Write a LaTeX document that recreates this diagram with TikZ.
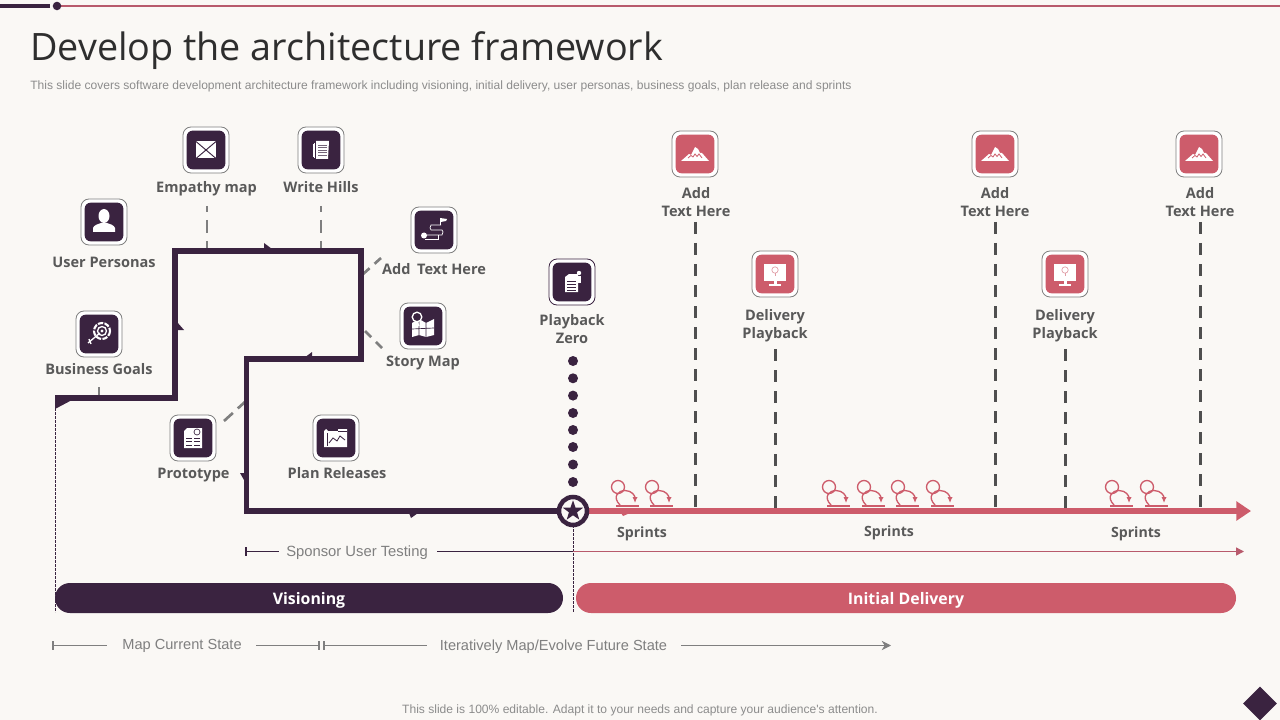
\documentclass[tikz,border=0pt]{standalone}
\usepackage{fontspec}
\setmainfont{Open Sans}
\newfontfamily\arialf{Liberation Sans}
\usetikzlibrary{shapes.geometric,arrows.meta}
\definecolor{bgc}{HTML}{FAF8F5}
\definecolor{darkc}{HTML}{3A2340}
\definecolor{pinkc}{HTML}{CD5C6B}
\definecolor{labelc}{HTML}{595959}
\definecolor{stubc}{HTML}{7F7F7F}
\definecolor{vdash}{HTML}{4F4F4F}
\definecolor{thinp}{HTML}{B85A6C}
\definecolor{subc}{HTML}{8C8C8C}
\definecolor{arrowc}{HTML}{7F7F7F}
\tikzset{
  iconouter/.style={draw=#1,fill=white,line width=0.6pt,rounded corners=6pt,minimum size=34.5pt,inner sep=0pt},
  iconinner/.style={fill=#1,rounded corners=4.5pt,minimum size=29pt,inner sep=0pt},
  lbl/.style={font=\fontsize{10.9pt}{13.5pt}\selectfont\bfseries,text=labelc,align=center,inner sep=0pt},
  sprlbl/.style={font=\fontsize{10.6pt}{13pt}\selectfont\bfseries,text=labelc,inner sep=0pt},
  barlbl/.style={rounded corners=11.2pt,minimum height=22.5pt,inner sep=0pt,text=white,font=\fontsize{11.9pt}{15pt}\selectfont\bfseries},
  stub/.style={draw=stubc,line width=2pt,dash pattern=on 9.75pt off 6pt,dash phase=5.25pt},
  vd/.style={draw=vdash,line width=2.3pt,dash pattern=on 9pt off 6.75pt},
  mainp/.style={draw=darkc,line width=4.2pt,miter limit=10},
  marker/.style={fill=darkc,draw=none},
  plain/.style={font=\arialf\fontsize{10.95pt}{13pt}\selectfont,text=stubc,inner sep=0pt},
  thin/.style={line width=0.8pt},
  ic/.style={fill=white,draw=none},
  icl/.style={draw=white,line width=0.5pt,fill=none},
  sprl/.style={draw=pinkc,line width=1pt,fill=none}
}
\newcommand{\sprinticon}[1]{%
  \begin{scope}[shift={(#1,0)}]
    \draw[sprl] (618,487) circle[radius=6.5];
    \draw[sprl,-{Latex[length=4.5pt,width=4pt]}] (620,505)
      .. controls (612,497) and (618,490.5) .. (625,490.5)
      .. controls (632,490.5) and (635,496) .. (635,503);
    \draw[sprl] (616,506) -- (639,506);
  \end{scope}}
\begin{document}
\begin{tikzpicture}[x=0.75pt,y=-0.75pt]
\useasboundingbox (0,0) rectangle (1280,720);
\fill[bgc] (0,0) rectangle (1280,720);
% top rule
\coordinate (tl0) at (0,6); \coordinate (tl1) at (50,6); \coordinate (tl2) at (57,6); \coordinate (tl3) at (1280,6);
\draw[darkc,line width=2.4pt] (tl0) -- (tl1);
\draw[thinp,line width=0.8pt] (tl2) -- (tl3);
\node[circle,fill=darkc,minimum size=6.4pt,inner sep=0pt] (topdot) at (tl2) {};
% title
\node[anchor=base west,inner sep=0pt,text=black!82,font=\fontsize{28.3pt}{34pt}\selectfont] (title) at (30,61) {Develop the architecture framework};
\node[anchor=west,inner sep=0pt,text=subc,font=\arialf\fontsize{9.05pt}{11pt}\selectfont] (subtitle) at (30,86) {This slide covers software development architecture framework including visioning, initial delivery, user personas, business goals, plan release and sprints};
% thin vertical dashed
\coordinate (v1a) at (55,400); \coordinate (v1b) at (55,612);
\coordinate (v2a) at (573,525); \coordinate (v2b) at (573,612);
\draw[darkc,line width=0.75pt,dash pattern=on 2pt off 1pt] (v1a) -- (v1b);
\draw[darkc,line width=0.75pt,dash pattern=on 2pt off 1pt] (v2a) -- (v2b);
% stubs
\coordinate (s1a) at (207,206); \coordinate (s1b) at (207,251);
\coordinate (s2a) at (321,206); \coordinate (s2b) at (321,251);
\coordinate (s3a) at (381,258); \coordinate (s3b) at (362,275);
\coordinate (s4a) at (382,348); \coordinate (s4b) at (362,328);
\coordinate (s5a) at (224,421); \coordinate (s5b) at (246,401);
\coordinate (s6a) at (99,387); \coordinate (s6b) at (99,398);
\draw[stub] (s1a) -- (s1b);
\draw[stub] (s2a) -- (s2b);
\draw[stub,dash phase=0pt,dash pattern=on 6.5pt off 5pt] (s3a) -- (s3b);
\draw[stub,dash phase=0pt,dash pattern=on 6.5pt off 5pt] (s4a) -- (s4b);
\draw[stub,dash phase=0pt,dash pattern=on 9pt off 5pt] (s5a) -- (s5b);
\draw[stubc,line width=2pt] (s6a) -- (s6b);
% pink vertical dashed
\foreach \nm/\x/\ya in {a/695.5/222,b/995.5/222,c/1200.5/222,d/775.5/349,e/1065.5/349}{
  \coordinate (vd\nm a) at (\x,\ya);
  \coordinate (vd\nm b) at (\x,508);
  \draw[vd] (vd\nm a) -- (vd\nm b);
}
% pink main arrow
\coordinate (star) at (573,511);
\coordinate (pend) at (1251,511);
\draw[draw=pinkc,line width=4.3pt,-{Triangle[length=11pt,width=14pt]}] (star) -- (pend);
% dark main path
\coordinate (m0) at (55,398); \coordinate (m1) at (175,398); \coordinate (m2) at (175,251);
\coordinate (m3) at (361,251); \coordinate (m4) at (361,359); \coordinate (m5) at (246.5,359);
\coordinate (m6) at (246.5,511);
\draw[mainp] (m0) -- (m1) -- (m2) -- (m3) -- (m4) -- (m5) -- (m6) -- (star);
% markers
\fill[marker] (55,396) -- (72,400) -- (55,409) -- cycle;
\fill[marker] (264,243) -- (272,249) -- (264,249) -- cycle;
\fill[marker] (177,322) -- (184,330) -- (177,330) -- cycle;
\fill[marker] (312,352) -- (312,358) -- (304,358) -- cycle;
\fill[marker] (240,473) -- (248,473) -- (244,480) -- cycle;
\fill[marker] (409,513) -- (418,513) -- (411,518) -- cycle;
\fill[pinkc] (621,513) -- (630,513) -- (623,516) -- cycle;
% dots
\foreach \i/\y in {1/361,2/378.3,3/395.6,4/413,5/430,6/447,7/464.5,8/482}{
  \node[circle,fill=darkc,minimum size=7.5pt,inner sep=0pt] (dot\i) at (573,\y) {};
}
% star
\node[circle,draw=darkc,fill=bgc,line width=3.4pt,minimum size=21pt,inner sep=0pt] (starc) at (star) {};
\node[star,star points=5,star point ratio=2.5,fill=darkc,minimum size=16pt,inner sep=0pt] (starin) at (573,511) {};
% sponsor row
\coordinate (sp0) at (246,551.5); \coordinate (sp1) at (279,551.5); \coordinate (sp2) at (437,551.5); \coordinate (sp3) at (573,551.5); \coordinate (sp4) at (1244,551.5);
\coordinate (sp0t) at (246,547); \coordinate (sp0b) at (246,556);
\draw[darkc,thin] (sp0t) -- (sp0b);
\draw[darkc,thin] (sp0) -- (sp1);
\draw[darkc,thin] (sp2) -- (sp3);
\draw[thinp,line width=1pt,-{Triangle[length=6pt,width=6pt]}] (sp3) -- (sp4);
\node[plain,font=\arialf\fontsize{11.1pt}{13pt}\selectfont] (sponsor) at (357,553) {Sponsor User Testing};
% bars
\node[fill=darkc,barlbl,minimum width=381pt] (vis) at (309,598) {\raisebox{-4.5pt}[0pt][0pt]{Visioning}};
\node[fill=pinkc,barlbl,minimum width=495pt] (init) at (906,598) {\raisebox{-4.5pt}[0pt][0pt]{Initial Delivery}};
% bottom row
\node[plain] (mcs) at (182,645.5) {Map Current State};
\node[plain] (ime) at (553.5,646.5) {Iteratively Map/Evolve Future State};
\coordinate (b0) at (53,645.5); \coordinate (b1) at (107,645.5); \coordinate (b2) at (256,645.5); \coordinate (b3) at (319,645.5); \coordinate (b4) at (324,645.5); \coordinate (b5) at (427,645.5); \coordinate (b6) at (681,645.5); \coordinate (b7) at (891,645.5);
\draw[arrowc,thin] (b0) -- (b1);
\draw[arrowc,thin] (b2) -- (b3);
\draw[arrowc,thin] (b4) -- (b5);
\draw[arrowc,thin,-{Stealth[length=7pt,width=7pt]}] (b6) -- (b7);
\foreach \x in {53,319,324}{ \draw[arrowc,thin] (\x,641) -- (\x,650); }
% sprints
\foreach \dx in {0,34,211,246,280,315,494,529}{ \sprinticon{\dx} }
\node[sprlbl] (spr1) at (642,534) {Sprints};
\node[sprlbl] (spr2) at (889,533) {Sprints};
\node[sprlbl] (spr3) at (1136,534) {Sprints};
% icon boxes: dark
\foreach \nm/\x/\y in {emp/206/150,wri/321/150,usr/104/222,add/434/230,sto/423/326,biz/99/334,pro/193/438,pla/336/438}{
  \node[iconouter=stubc] (\nm o) at (\x,\y) {};
  \node[iconinner=darkc] (\nm i) at (\x,\y) {};
}
\node[iconouter=darkc] (pbzo) at (572,282) {};
\node[iconinner=darkc] (pbzi) at (572,282) {};
% icon boxes: pink
\foreach \nm/\x/\y in {ma/695/154,mb/995/154,mc/1199/154,da/775/274,db/1065/274}{
  \node[iconouter=stubc] (\nm o) at (\x,\y) {};
  \node[iconinner=pinkc] (\nm i) at (\x,\y) {};
}
% mountain glyphs
\foreach \x in {695,995,1199}{
  \begin{scope}[shift={(\x,154)}]
    \fill[ic] (-14,7) -- (-6,0) -- (-4,1) -- (0,-7) -- (3,-5) -- (5,-1) -- (7,-1) -- (14,7) -- cycle;
    \draw[pinkc,line width=0.6pt] (-7,4) -- (-4,1.5) -- (-2,3) -- (0,0) -- (2,2.5) -- (4,0) -- (7,4);
  \end{scope}
}
% monitor glyphs
\foreach \x in {775,1065}{
  \begin{scope}[shift={(\x,274)}]
    \fill[ic] (-11,-10) rectangle (11,7);
    \fill[ic] (-1.5,7) rectangle (1.5,11);
    \fill[ic] (-6,10) rectangle (6,12);
    \draw[pinkc!60,line width=0.5pt] (0,-4) circle[radius=3.2];
    \draw[pinkc!60,line width=0.5pt] (0,-1) -- (0,2);
  \end{scope}
}
% envelope
\begin{scope}[shift={(206,150)}]
  \fill[ic] (-10,-8.5) rectangle (10,8.5);
  \draw[darkc,line width=0.7pt] (-10,-8.5) -- (10,8.5) (10,-8.5) -- (-10,8.5);
\end{scope}
% document (write hills)
\begin{scope}[shift={(321,150)}]
  \draw[icl] (-8,-6) -- (-8,7) (-6.5,-7) -- (-6.5,8);
  \fill[ic] (-5,-9) -- (8,-9) -- (7,9) -- (-5,9) -- cycle;
  \foreach \yy in {-5,-2.5,0,2.5,5}{ \draw[darkc!70,line width=0.3pt] (-3,\yy) -- (5.5,\yy); }
\end{scope}
% person
\begin{scope}[shift={(104,222)}]
  \fill[ic] (0,-6) ellipse[x radius=5.5,y radius=7];
  \fill[ic] (-11,10) -- (-11,6) .. controls (-10,3) and (-6,2) .. (-3,1) -- (3,1) .. controls (6,2) and (10,3) .. (11,6) -- (11,10) -- cycle;
\end{scope}
% target
\begin{scope}[shift={(99,334)}]
  \draw[white,line width=1.6pt,dash pattern=on 4pt off 1pt] (3,-3) circle[radius=8];
  \draw[white,line width=1pt] (3,-3) circle[radius=4.5];
  \fill[ic] (3,-3) circle[radius=1.6];
  \draw[white,line width=1pt] (1,-1) -- (-11,9);
  \draw[white,line width=1pt] (-10,5) -- (-8,10);
\end{scope}
% flag route
\begin{scope}[shift={(434,230)}]
  \draw[icl,line width=0.5pt] (-9,5) -- (8,5) -- (9,2) -- (8,0) -- (-3,0) -- (-4,-2) -- (-3,-5) -- (5,-5) -- (7,-5);
  \draw[icl,line width=0.5pt] (-9,9) -- (4,9) -- (4,5);
  \fill[ic] (6,-7) -- (6,-12) -- (13,-11) -- (12,-9) -- (6.8,-8) -- (6.8,-5) -- (6,-5) -- cycle;
  \fill[ic] (-10,5.5) circle[radius=3];
\end{scope}
% story map
\begin{scope}[shift={(423,326)}]
  \fill[ic] (-11,-3) -- (-4,-7) -- (3,-3) -- (11,-7) -- (11,9) -- (3,11) -- (-4,9) -- (-11,11) -- cycle;
  \draw[darkc,line width=0.5pt] (-4,-7) -- (-4,9) (3,-3) -- (3,11) (-11,3) -- (11,2);
  \draw[white,line width=1pt,fill=darkc] (-6,-9) circle[radius=4.8];
  \draw[white,line width=1pt] (-6,-4) -- (-4,0);
\end{scope}
% prototype
\begin{scope}[shift={(193,438)}]
  \fill[ic] (-9,-7) -- (-6,-10) -- (9,-10) -- (9,10) -- (-9,10) -- cycle;
  \foreach \yy in {0,3.5,7}{ \draw[darkc,line width=0.6pt] (-7,\yy) -- (-1,\yy) (1,\yy) -- (7,\yy); }
  \draw[darkc,line width=0.5pt] (4,-6) circle[radius=3];
\end{scope}
% plan releases
\begin{scope}[shift={(336,438)}]
  \fill[ic] (-12,-7) -- (-10,-9) -- (-8,-7) -- (2,-7) -- (2,-9) -- (11,-9) -- (11,9) -- (-12,9) -- cycle;
  \draw[darkc,line width=0.6pt] (-7,5) -- (-3,0) -- (1,3) -- (4,-2) -- (9,2);
  \draw[darkc,line width=0.4pt] (-9,-5) -- (-9,8);
  \draw[darkc,line width=0.4pt] (2,-7) -- (11,-7);
\end{scope}
% playback zero
\begin{scope}[shift={(572,282)}]
  \fill[ic] (-7,-5) -- (-3,-8) -- (6,-8) -- (6,10) -- (-7,10) -- cycle;
  \foreach \yy in {-1,2,5,8}{ \draw[darkc,line width=0.5pt] (-5,\yy) -- (4,\yy); }
  \fill[ic] (7,-9) circle[radius=2.2];
  \fill[ic] (6,-6) rectangle (8.5,1);
\end{scope}
% labels
\node[lbl] (lemp) at (206.5,189) {Empathy map};
\node[lbl] (lwri) at (321,187) {Write Hills};
\node[lbl] (lusr) at (104,262) {User Personas};
\node[lbl] (ladd) at (434,269) {Add\hspace{0.2em} Text Here};
\node[lbl] (lsto) at (423,363) {Story Map};
\node[lbl] (lbiz) at (99,369) {Business Goals};
\node[lbl] (lpro) at (193.5,475) {Prototype};
\node[lbl] (lpla) at (337,473) {Plan Releases};
\node[lbl] (lpbz) at (572,329) {Playback\\Zero};
\node[lbl] (lma) at (696,202) {Add\\Text Here};
\node[lbl] (lmb) at (995,202) {Add\\Text Here};
\node[lbl] (lmc) at (1200,202) {Add\\Text Here};
\node[lbl] (lda) at (775,326) {Delivery\\Playback};
\node[lbl] (ldb) at (1065,326) {Delivery\\Playback};
% footer
\node[inner sep=0pt,text=subc,font=\arialf\fontsize{9.05pt}{11pt}\selectfont] (foot) at (640,710) {This slide is 100\% editable. Adapt it to your needs and capture your audience's attention.};
\node[diamond,fill=darkc,minimum size=25.5pt,inner sep=0pt] (diam) at (1260,703.5) {};
\end{tikzpicture}
\end{document}
